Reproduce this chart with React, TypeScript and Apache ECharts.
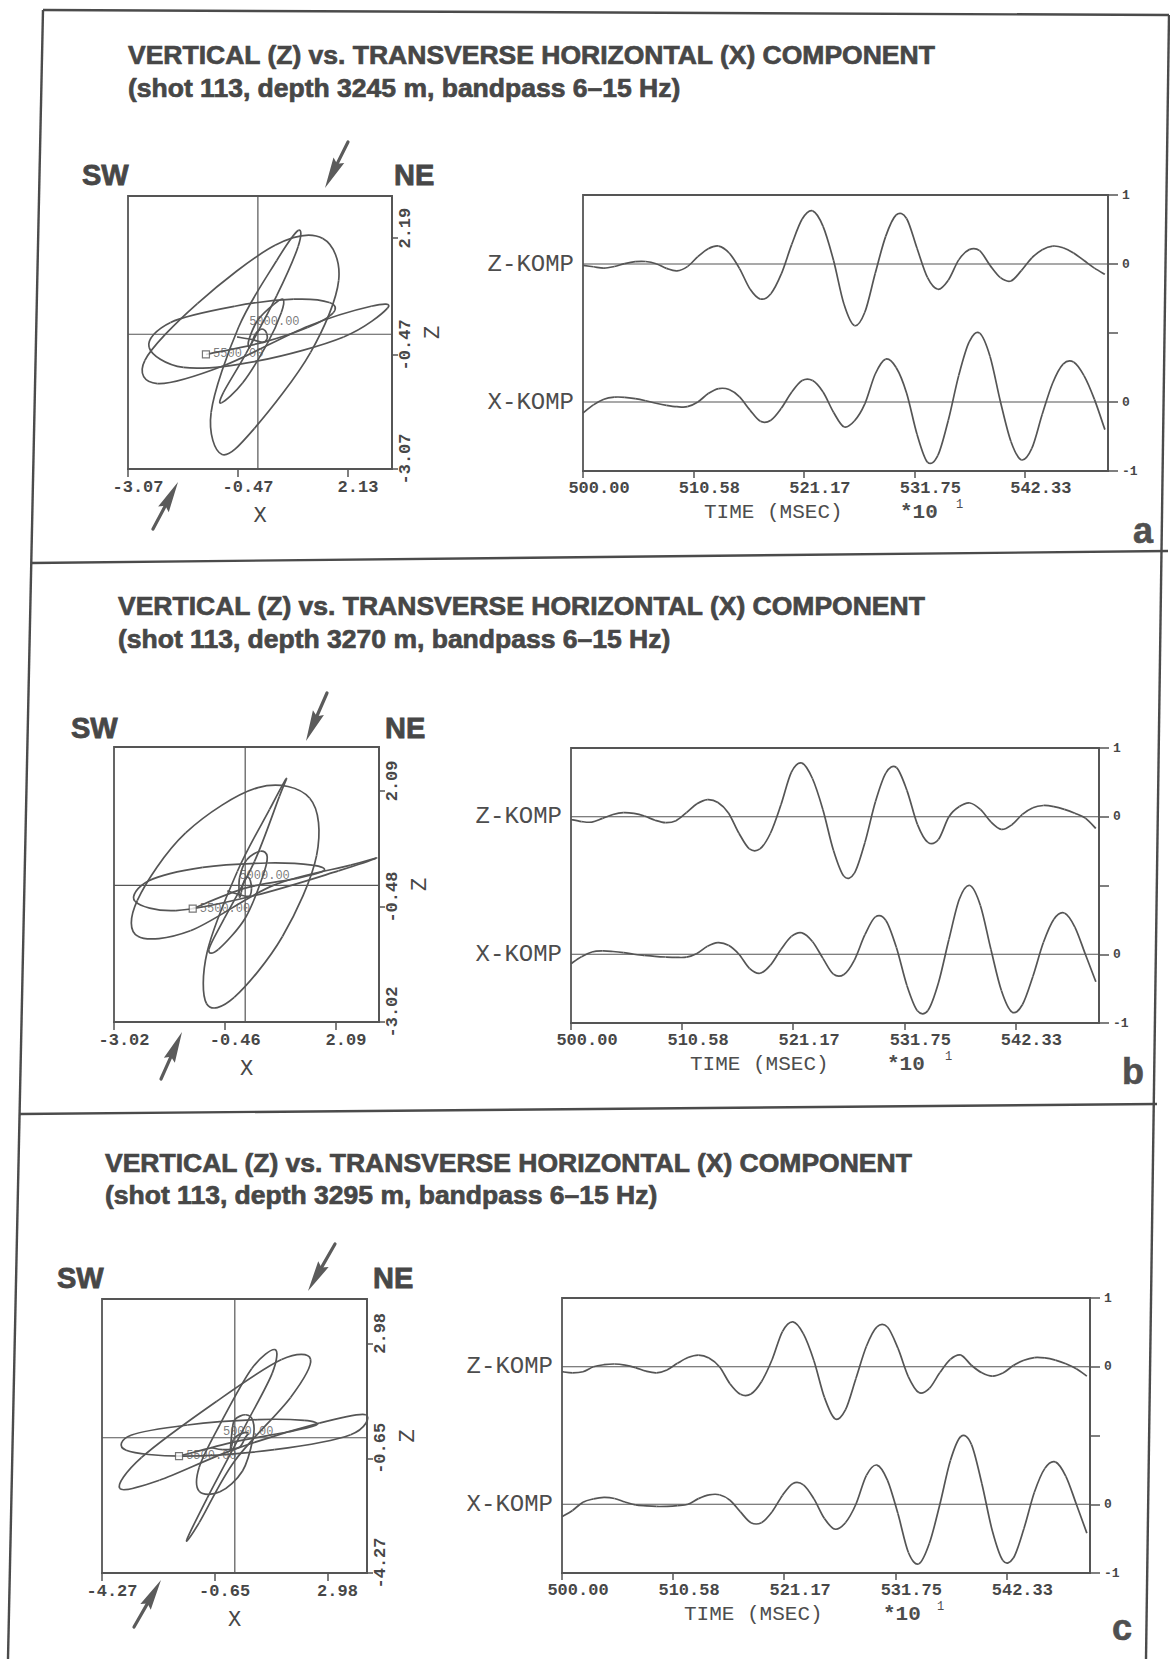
import React, { useEffect, useRef } from "react";
import * as echarts from "echarts";

// ---------------------------------------------------------------------------
// Data: time samples (units of 10 ms, as on the time axis) and the two
// component traces of each receiver depth, as amplitudes relative to a
// trace track (a track spans -0.5 .. +0.5 around its own zero line).
// ---------------------------------------------------------------------------
const time = [
  500, 501, 502, 503, 504, 505, 506, 507, 508, 509, 510, 511, 512, 513, 514, 515, 516,
  517, 518, 519, 520, 521, 522, 523, 524, 525, 526, 527, 528, 529, 530, 531, 532, 533,
  534, 535, 536, 537, 538, 539, 540, 541, 542, 543, 544, 545, 546, 547, 548, 549, 550,
];

// depth 3245 m
const zA = [
  -0.01, -0.02, -0.03, -0.018, 0.003, 0.017, 0.018, 0.002, -0.032, -0.05, -0.019, 0.053,
  0.111, 0.13, 0.08, -0.033, -0.181, -0.254, -0.215, -0.072, 0.142, 0.326, 0.385, 0.273,
  0.027, -0.29, -0.446, -0.35, -0.067, 0.2, 0.355, 0.33, 0.114, -0.097, -0.183, -0.117,
  0.03, 0.104, 0.097, -0.01, -0.099, -0.123, -0.048, 0.044, 0.104, 0.13, 0.118, 0.08,
  0.025, -0.03, -0.075,
];
const xA = [
  -0.08, -0.021, 0.02, 0.035, 0.034, 0.024, 0.009, -0.009, -0.024, -0.034, -0.034, 0,
  0.061, 0.097, 0.09, 0.037, -0.059, -0.14, -0.132, -0.046, 0.072, 0.155, 0.155, 0.072,
  -0.074, -0.18, -0.138, -0.014, 0.203, 0.311, 0.25, 0.066, -0.233, -0.435, -0.387,
  -0.132, 0.193, 0.436, 0.499, 0.33, 0, -0.286, -0.419, -0.336, -0.089, 0.138, 0.275,
  0.29, 0.191, 0.019, -0.2,
];

// depth 3270 m
const zB = [
  -0.02, -0.035, -0.039, -0.012, 0.016, 0.03, 0.024, 0.005, -0.025, -0.043, -0.029, 0.03,
  0.094, 0.125, 0.104, 0.028, -0.12, -0.234, -0.234, -0.12, 0.087, 0.325, 0.39, 0.278,
  0.051, -0.244, -0.433, -0.41, -0.187, 0.109, 0.319, 0.358, 0.192, -0.055, -0.186,
  -0.166, 0, 0.074, 0.1, 0.053, -0.037, -0.092, -0.058, 0.017, 0.066, 0.082, 0.074,
  0.054, 0.026, -0.01, -0.085,
];
const xB = [
  -0.068, -0.018, 0.016, 0.024, 0.02, 0.012, 0, -0.008, -0.015, -0.02, -0.023, -0.021,
  0.006, 0.058, 0.084, 0.065, 0, -0.102, -0.138, -0.079, 0.035, 0.13, 0.156, 0.093,
  -0.03, -0.145, -0.147, -0.042, 0.142, 0.272, 0.246, 0.049, -0.227, -0.411, -0.409,
  -0.209, 0.107, 0.402, 0.5, 0.355, 0.036, -0.264, -0.42, -0.367, -0.162, 0.085, 0.255,
  0.3, 0.198, 0, -0.2,
];

// depth 3295 m
const zC = [
  -0.036, -0.044, -0.036, 0, 0.015, 0.02, 0.012, -0.006, -0.032, -0.044, -0.023, 0.025,
  0.067, 0.085, 0.063, 0, -0.123, -0.2, -0.198, -0.109, 0.049, 0.256, 0.326, 0.239,
  0.044, -0.223, -0.378, -0.314, -0.085, 0.149, 0.29, 0.289, 0.135, -0.073, -0.188,
  -0.157, -0.042, 0.054, 0.085, 0.011, -0.044, -0.068, -0.046, 0.009, 0.047, 0.067,
  0.064, 0.048, 0.022, -0.015, -0.068,
];
const xC = [
  -0.09, -0.045, 0.015, 0.039, 0.05, 0.042, 0.016, -0.005, -0.012, -0.016, -0.015, -0.01,
  0, 0.041, 0.068, 0.069, 0.029, -0.056, -0.134, -0.134, -0.056, 0.064, 0.151, 0.141,
  0.039, -0.104, -0.181, -0.134, 0, 0.21, 0.285, 0.176, -0.068, -0.351, -0.433, -0.284,
  0, 0.318, 0.493, 0.436, 0.149, -0.195, -0.409, -0.391, -0.178, 0.087, 0.261, 0.308,
  0.203, 0, -0.21,
];

const depths = [3245, 3270, 3295];
const panelLetters = ["a", "b", "c"];
const zTraces = [zA, zB, zC];
const xTraces = [xA, xB, xC];

// physical amplitude that corresponds to half a trace track
const trackHalf = [3.07, 3.02, 4.27];

// particle-motion (hodogram) axes
const hodoXRange = [[-3.07, 3.17], [-3.02, 3.08], [-4.27, 4.25]];
const hodoZRange = [[-3.07, 3.15], [-3.02, 3.06], [-4.27, 4.38]];
const hodoXTicks = [[-3.07, -0.47, 2.13], [-3.02, -0.46, 2.09], [-4.27, -0.65, 2.98]];
const hodoZTicks = [[-3.07, -0.47, 2.19], [-3.02, -0.48, 2.09], [-4.27, -0.65, 2.98]];

// trace axes
const timeTicks = [500, 510.58, 521.17, 531.75, 542.33];
const timeMin = 500;
const timeMax = 550.3;
const ampTicks = [-1, -0.5, 0, 0.5, 1];
const ampLabelValues = [-1, -0.5, 0.5, 1];
const trackCentres = [0.5, -0.5];
const trackNames = ["Z-KOMP", "X-KOMP"];

// ---------------------------------------------------------------------------
// Page layout (pixels)
// ---------------------------------------------------------------------------
const W = 1170;
const H = 1659;

const layouts = [
  {
    hodo: { left: 128, top: 196, width: 264, height: 273 },
    trace: { left: 583, top: 195, width: 525, height: 276 },
    titleX: 128, titleY: [55, 88],
    sw: [82, 175], ne: [394, 175],
    arrowTop: [[348, 142], [325, 188]], arrowBottom: [[153, 529], [178, 482]],
    timeName: [704, 512], timeExp: [900, 512], timeSup: [956, 505],
    letter: [1143, 530],
  },
  {
    hodo: { left: 114, top: 747, width: 265, height: 275 },
    trace: { left: 571, top: 748, width: 528, height: 275 },
    titleX: 118, titleY: [606, 639],
    sw: [71, 728], ne: [385, 728],
    arrowTop: [[327, 693], [306, 741]], arrowBottom: [[161, 1079], [182, 1032]],
    timeName: [690, 1064], timeExp: [887, 1064], timeSup: [945, 1057],
    letter: [1133, 1071],
  },
  {
    hodo: { left: 102, top: 1299, width: 265, height: 274 },
    trace: { left: 562, top: 1298, width: 528, height: 275 },
    titleX: 105, titleY: [1163, 1195],
    sw: [57, 1278], ne: [373, 1278],
    arrowTop: [[335, 1244], [308, 1291]], arrowBottom: [[134, 1627], [161, 1580]],
    timeName: [684, 1614], timeExp: [883, 1614], timeSup: [937, 1607],
    letter: [1122, 1627],
  },
];

const INK = "#474747";
const LINE = "#555555";
const SANS = '"Liberation Sans", Arial, Helvetica, sans-serif';
const MONO = '"Liberation Mono", "DejaVu Sans Mono", monospace';

function text(x: number, y: number, s: string, size: number, opts: any = {}) {
  const align = opts.align || "left";
  const style: any = {
    text: s,
    fill: opts.fill || INK,
    fontSize: size,
    fontWeight: opts.weight || "normal",
    fontFamily: opts.family || SANS,
    align,
    textAlign: align,
    verticalAlign: "middle",
    textVerticalAlign: "middle",
  };
  if (opts.heavy) {
    style.stroke = opts.fill || INK;
    style.lineWidth = opts.heavy;
  }
  return { type: "text", x, y, silent: true, style };
}

function arrow(tail: number[], tip: number[]) {
  const dx = tip[0] - tail[0];
  const dy = tip[1] - tail[1];
  const len = Math.hypot(dx, dy);
  const ux = dx / len;
  const uy = dy / len;
  const nx = -uy;
  const ny = ux;
  const headLen = 31;
  const headHalf = 6;
  const notch = 27;
  const bx = tip[0] - ux * headLen;
  const by = tip[1] - uy * headLen;
  const mx = tip[0] - ux * notch;
  const my = tip[1] - uy * notch;
  return [
    {
      type: "line",
      silent: true,
      shape: { x1: tail[0], y1: tail[1], x2: mx, y2: my },
      style: { stroke: "#5b5b5b", lineWidth: 3.2, lineCap: "round" },
    },
    {
      type: "polygon",
      silent: true,
      shape: {
        points: [
          [tip[0], tip[1]],
          [bx + nx * headHalf, by + ny * headHalf],
          [mx, my],
          [bx - nx * headHalf, by - ny * headHalf],
        ],
      },
      style: { fill: "#5b5b5b" },
    },
  ];
}

// Each curve segment carries its sample pair plus the neighbouring samples,
// so the renderer can draw a smooth (Catmull-Rom) piece through the samples.
function segmentRows(xs: number[], ys: number[]) {
  const n = xs.length;
  const rows: number[][] = [];
  for (let k = 0; k < n - 1; k++) {
    const a = Math.max(k - 1, 0);
    const d = Math.min(k + 2, n - 1);
    rows.push([xs[a], ys[a], xs[k], ys[k], xs[k + 1], ys[k + 1], xs[d], ys[d]]);
  }
  return rows;
}

function curveSeries(xAxisIndex: number, yAxisIndex: number, rows: number[][], name?: string) {
  return {
    type: "custom",
    name,
    coordinateSystem: "cartesian2d",
    xAxisIndex,
    yAxisIndex,
    silent: true,
    data: rows,
    encode: { x: [0, 2, 4, 6], y: [1, 3, 5, 7] },
    renderItem: (_params: any, api: any) => {
      const p = [0, 1, 2, 3].map((j) => api.coord([api.value(2 * j), api.value(2 * j + 1)]));
      return {
        type: "bezierCurve",
        silent: true,
        shape: {
          x1: p[1][0],
          y1: p[1][1],
          x2: p[2][0],
          y2: p[2][1],
          cpx1: p[1][0] + (p[2][0] - p[0][0]) / 6,
          cpy1: p[1][1] + (p[2][1] - p[0][1]) / 6,
          cpx2: p[2][0] - (p[3][0] - p[1][0]) / 6,
          cpy2: p[2][1] - (p[3][1] - p[1][1]) / 6,
        },
        style: { stroke: LINE, lineWidth: 1.7, fill: "none" },
      };
    },
  };
}

function straight(xAxisIndex: number, yAxisIndex: number, data: number[][]) {
  return {
    type: "line",
    xAxisIndex,
    yAxisIndex,
    silent: true,
    showSymbol: false,
    data,
    lineStyle: { color: LINE, width: 1.2 },
  };
}

function buildOption() {
  const grid: any[] = [];
  const xAxis: any[] = [];
  const yAxis: any[] = [];
  const series: any[] = [];
  const graphic: any[] = [];

  const axisLine = { show: true, onZero: false, lineStyle: { color: LINE, width: 1.8 } };
  const tickStyle = { color: LINE, width: 1.5 };

  // grids 0..2: hodograms, grids 3..5: trace plots
  for (let i = 0; i < 3; i++) {
    grid.push({ ...layouts[i].hodo, show: true, borderColor: LINE, borderWidth: 1.8 });
  }
  for (let i = 0; i < 3; i++) {
    grid.push({ ...layouts[i].trace, show: true, borderColor: LINE, borderWidth: 1.8 });
  }

  // hodogram axes
  for (let i = 0; i < 3; i++) {
    xAxis.push({
      gridIndex: i,
      type: "value",
      position: "bottom",
      min: hodoXRange[i][0],
      max: hodoXRange[i][1],
      axisLine,
      axisTick: { show: true, customValues: hodoXTicks[i], length: 8, lineStyle: tickStyle },
      axisLabel: {
        customValues: hodoXTicks[i],
        formatter: (v: number) => v.toFixed(2),
        color: INK,
        fontFamily: MONO,
        fontWeight: "bold",
        fontSize: 17,
        margin: 10,
        padding: [0, 0, 0, 20],
      },
      splitLine: { show: false },
      name: "X",
      nameLocation: "middle",
      nameGap: 36,
      nameTextStyle: { color: INK, fontFamily: MONO, fontSize: 22 },
    });
    yAxis.push({
      gridIndex: i,
      type: "value",
      position: "right",
      min: hodoZRange[i][0],
      max: hodoZRange[i][1],
      axisLine,
      axisTick: { show: true, customValues: hodoZTicks[i], length: 6, lineStyle: tickStyle },
      axisLabel: {
        customValues: hodoZTicks[i],
        formatter: (v: number) => v.toFixed(2),
        rotate: 90,
        color: INK,
        fontFamily: MONO,
        fontWeight: "bold",
        fontSize: 17,
        margin: 5,
        padding: [0, 0, 0, 20],
      },
      splitLine: { show: false },
      name: "Z",
      nameLocation: "middle",
      nameGap: 30,
      nameRotate: 90,
      nameTextStyle: { color: INK, fontFamily: MONO, fontSize: 22 },
    });
  }

  // trace axes
  for (let i = 0; i < 3; i++) {
    xAxis.push({
      gridIndex: 3 + i,
      type: "value",
      position: "bottom",
      min: timeMin,
      max: timeMax,
      axisLine,
      axisTick: { show: true, customValues: timeTicks, length: 7, lineStyle: tickStyle },
      axisLabel: {
        customValues: timeTicks,
        formatter: (v: number) => v.toFixed(2),
        color: INK,
        fontFamily: MONO,
        fontWeight: "bold",
        fontSize: 17,
        margin: 9,
        padding: [0, 0, 0, 32],
      },
      splitLine: { show: false },
    });
  }
  for (let i = 0; i < 3; i++) {
    yAxis.push({
      gridIndex: 3 + i,
      type: "value",
      position: "right",
      min: -1,
      max: 1,
      axisLine,
      axisTick: { show: true, customValues: ampTicks, length: 10, lineStyle: tickStyle },
      axisLabel: {
        customValues: ampLabelValues,
        formatter: (v: number) => (v === 1 ? "1" : v === -1 ? "-1" : "0"),
        color: INK,
        fontFamily: MONO,
        fontWeight: "bold",
        fontSize: 13,
        margin: 14,
      },
      splitLine: { show: false },
    });
  }
  for (let i = 0; i < 3; i++) {
    yAxis.push({
      gridIndex: 3 + i,
      type: "value",
      position: "left",
      min: -1,
      max: 1,
      axisLine: { show: false, onZero: false },
      axisTick: { show: false },
      axisLabel: {
        customValues: trackCentres,
        formatter: (v: number) => (v > 0 ? trackNames[0] : trackNames[1]),
        color: "#4d4d4d",
        fontFamily: MONO,
        fontSize: 24,
        margin: 9,
      },
      splitLine: { show: false },
    });
  }

  for (let i = 0; i < 3; i++) {
    const z = zTraces[i];
    const x = xTraces[i];
    const gain = 2 * trackHalf[i];
    const n = time.length;
    const hx = x.map((v) => v * gain);
    const hz = z.map((v) => v * gain);

    // hodogram zero lines
    series.push(straight(i, i, [[0, hodoZRange[i][0]], [0, hodoZRange[i][1]]]));
    series.push(straight(i, i, [[hodoXRange[i][0], 0], [hodoXRange[i][1], 0]]));

    // particle motion, Z against X
    series.push(curveSeries(i, i, segmentRows(hx, hz), "Z vs X"));

    // first and last sample, labelled with their times
    series.push({
      type: "scatter",
      xAxisIndex: i,
      yAxisIndex: i,
      silent: true,
      data: [
        {
          value: [hx[0], hz[0]],
          symbol: "rect",
          symbolSize: 0.1,
          label: {
            show: true,
            formatter: (time[0] * 10).toFixed(2),
            position: "right",
            distance: 12,
            offset: [0, -15],
          },
        },
        {
          value: [hx[n - 1], hz[n - 1]],
          symbol: "rect",
          symbolSize: 7,
          itemStyle: { color: "#ffffff", borderColor: LINE, borderWidth: 1.2 },
          label: {
            show: true,
            formatter: (time[n - 1] * 10).toFixed(2),
            position: "right",
            distance: 3,
          },
        },
      ],
      label: { color: "#5a5a5a", fontFamily: MONO, fontSize: 12 },
    });

    // track zero lines and the two component traces
    for (let j = 0; j < 2; j++) {
      series.push(straight(3 + i, 3 + i, [[timeMin, trackCentres[j]], [timeMax, trackCentres[j]]]));
    }
    const zShown = z.map((v) => trackCentres[0] + v);
    const xShown = x.map((v) => trackCentres[1] + v);
    series.push(curveSeries(3 + i, 3 + i, segmentRows(time, zShown), trackNames[0]));
    series.push(curveSeries(3 + i, 3 + i, segmentRows(time, xShown), trackNames[1]));

    // headings, azimuth marks and annotations
    const L = layouts[i];
    graphic.push(
      text(L.titleX, L.titleY[0], "VERTICAL (Z) vs. TRANSVERSE HORIZONTAL (X) COMPONENT", 26.5, {
        weight: "bold",
        heavy: 0.7,
      })
    );
    graphic.push(
      text(L.titleX, L.titleY[1], `(shot 113, depth ${depths[i]} m, bandpass 6–15 Hz)`, 26.5, {
        weight: "bold",
        heavy: 0.7,
      })
    );
    graphic.push(text(L.sw[0], L.sw[1], "SW", 29, { weight: "bold", heavy: 0.8 }));
    graphic.push(text(L.ne[0], L.ne[1], "NE", 29, { weight: "bold", heavy: 0.8 }));
    graphic.push(...arrow(L.arrowTop[0], L.arrowTop[1]));
    graphic.push(...arrow(L.arrowBottom[0], L.arrowBottom[1]));
    graphic.push(text(L.timeName[0], L.timeName[1], "TIME (MSEC)", 21, { family: MONO, fill: "#4d4d4d" }));
    graphic.push(text(L.timeExp[0], L.timeExp[1], "*10", 21, { family: MONO, fill: "#4d4d4d", weight: "bold" }));
    graphic.push(text(L.timeSup[0], L.timeSup[1], "1", 12, { family: MONO, fill: "#4d4d4d" }));
    graphic.push(
      text(L.letter[0], L.letter[1], panelLetters[i], 36, {
        weight: "bold",
        align: "center",
        fill: "#505050",
        heavy: 0.6,
      })
    );
  }

  // page frame and panel separators
  const frame = [
    [43, 10, 1169, 15],
    [43, 10, 8, 1659],
    [1169, 15, 1146, 1659],
    [31, 563, 1168, 551],
    [20, 1114, 1157, 1104],
  ];
  for (const f of frame) {
    graphic.push({
      type: "line",
      silent: true,
      shape: { x1: f[0], y1: f[1], x2: f[2], y2: f[3] },
      style: { stroke: "#4b4b4b", lineWidth: 2.4 },
    });
  }

  return {
    animation: false,
    backgroundColor: "#ffffff",
    textStyle: { fontFamily: MONO },
    grid,
    xAxis,
    yAxis,
    series,
    graphic,
  };
}

export default function App() {
  const ref = useRef<HTMLDivElement>(null);
  useEffect(() => {
    if (!ref.current) return;
    const chart = echarts.init(ref.current, null, { renderer: "svg", width: W, height: H });
    chart.setOption(buildOption() as any);
    return () => chart.dispose();
  }, []);
  return (
    <div
      ref={ref}
      style={{ position: "absolute", left: 0, top: 0, width: W, height: H, background: "#ffffff" }}
    />
  );
}
